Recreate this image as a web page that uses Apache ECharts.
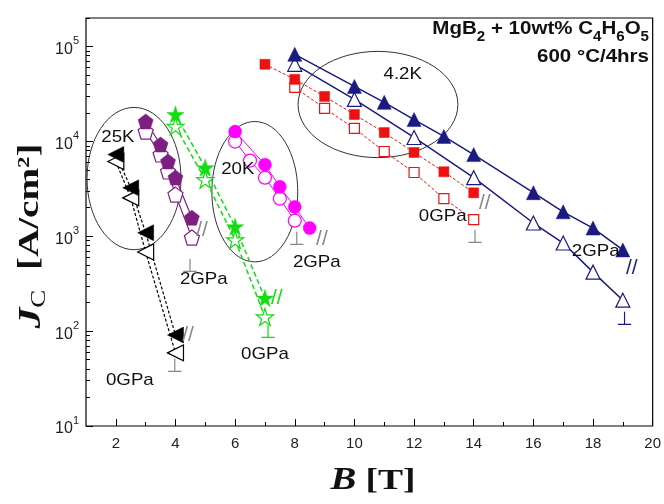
<!DOCTYPE html>
<html>
<head>
<meta charset="utf-8">
<script src="https://cdn.jsdelivr.net/npm/echarts/dist/echarts.min.js"></script>
<style>
html, body { margin: 0; padding: 0; background: #fff; }
#chart { width: 664px; height: 504px; }
</style>
</head>
<body>
<div id="chart"></div>
<script>
// field B [T] and Jc [A/cm2]
const bTri25 = [2, 2.5, 3, 4]
const jcTri25Fill = [7280, 3240, 1090, 91]
const jcTri25Open = [6140, 2540, 682, 59]

const bPent25 = [3, 3.5, 3.75, 4, 4.55]
const jcPent25Fill = [16200, 9270, 6140, 4160, 1570]
const jcPent25Open = [12700, 7280, 4820, 2750, 969]

const bStar = [4, 5, 6, 7]
const jcStarFill = [19200, 5280, 1260, 223]
const jcStarOpen = [14400, 3950, 918, 141]

const bCircFill = [6, 7, 7.5, 8, 8.5]
const jcCircFill = [12700, 5690, 3320, 2040, 1220]
const bCircOpen = [6, 6.5, 7, 7.5, 8]
const jcCircOpen = [9970, 6280, 4150, 2490, 1460]

const bSqFill = [7, 8, 9, 10, 11, 12, 13, 14]
const jcSqFill = [65000, 45100, 29800, 19200, 12400, 7640, 4790, 2870]
const bSqOpen = [8, 9, 10, 11, 12, 13, 14]
const jcSqOpen = [37100, 22300, 13700, 7830, 4700, 2490, 1500]

const bTriFill = [8, 10, 11, 12, 13, 14, 16, 17, 18, 19]
const jcTriFill = [82800, 38000, 25800, 17000, 11300, 7260, 2880, 1810, 1220, 718]
const bTriOpen = [8, 10, 12, 14, 16, 17, 18, 19]
const jcTriOpen = [65000, 27700, 11000, 4150, 1380, 849, 419, 212]

// axis ticks
const xMajor = [2, 4, 6, 8, 10, 12, 14, 16, 18, 20]
const xMinor = [3, 5, 7, 9, 11, 13, 15, 17, 19]
const yPowers = [1, 2, 3, 4, 5]

// annotations [text, B, Jc]
const labels = [
    ['25K', 2.07, 11000], ['20K', 6.09, 5020], ['4.2K', 11.62, 50900],
    ['2GPa', 4.95, 354], ['0GPa', 2.47, 30.4], ['2GPa', 8.74, 536],
    ['0GPa', 7.0, 57.3], ['0GPa', 12.96, 1610], ['2GPa', 18.09, 686]
]
// ovals [B, Jc, half width T, half height decades]
const ovals = [[2.61, 4060, 1.575, 0.75], [6.66, 2950, 1.44, 0.74], [10.79, 24500, 2.68, 0.56]]
const stops = [[4.49, 474, '#888'], [3.98, 41.4, '#888'], [8.07, 918, '#888'], [7.1, 95, '#11dd11'], [14.04, 964, '#888'], [19.06, 131, '#1a1a80']]
const breaks = [[4.89, 1170, '#888'], [4.42, 91, '#888'], [8.91, 940, '#888'], [7.4, 223, '#11dd11'], [14.37, 2250, '#888'], [19.3, 464, '#1a1a80']]

const yMinor = []
for (let n = 1; n <= 5; n++) {
    for (let k = 2; k <= 9; k++) {
        if (k * Math.pow(10, n) <= 200000) yMinor.push(Math.log10(k * Math.pow(10, n)))
    }
}

const pentagon = 'path://M50 0L97.6 34.5L79.4 90.5L20.6 90.5L2.4 34.5Z'
const star = 'path://M50 0L61.2 34.5L97.6 34.5L68.2 55.9L79.4 90.5L50 69.1L20.6 90.5L31.8 55.9L2.4 34.5L38.8 34.5Z'

const mk = (xs, ys, color, open, symbol, size, lineStyle, rotate) => ({
    type: 'line',
    data: xs.map((b, i) => [b, ys[i]]),
    symbol: symbol,
    symbolSize: size,
    symbolRotate: rotate || 0,
    showAllSymbol: true,
    itemStyle: open
        ? { color: '#fff', borderColor: color, borderWidth: 1.2 }
        : { color: color, borderColor: color, borderWidth: 0.5 },
    lineStyle: Object.assign({ color: color, width: 1.2 }, lineStyle),
    emphasis: { disabled: true },
    animation: false
})

const navy = '#1a1a80', red = '#ee1111', magenta = '#ff00ff', green = '#11dd11', purple = '#7d1f80'
const dashBlack = { type: [3, 2], width: 1.2 }
const dashGreen = { type: [5, 3], width: 1.5 }
const dashRed = { type: [3, 2], width: 1 }

const series = [
    mk(bTri25, jcTri25Open, '#000', true, 'triangle', 16, dashBlack, 90),
    mk(bTri25, jcTri25Fill, '#000', false, 'triangle', 16, dashBlack, 90),
    mk(bPent25, jcPent25Open, purple, true, pentagon, 15, { width: 1.2 }),
    mk(bPent25, jcPent25Fill, purple, false, pentagon, 15, { width: 1.2 }),
    mk(bStar, jcStarOpen, green, true, star, 17, dashGreen),
    mk(bStar, jcStarFill, green, false, star, 17, dashGreen),
    mk(bCircOpen, jcCircOpen, magenta, true, 'circle', 13, { width: 1 }),
    mk(bCircFill, jcCircFill, magenta, false, 'circle', 13, { width: 1 }),
    mk(bSqOpen, jcSqOpen, red, true, 'rect', 10, dashRed),
    mk(bSqFill, jcSqFill, red, false, 'rect', 10, dashRed),
    mk(bTriOpen, jcTriOpen, navy, true, 'triangle', 14, { width: 1.5 }),
    mk(bTriFill, jcTriFill, navy, false, 'triangle', 14, { width: 1.5 })
]

const hidden = { axisLine: { show: false }, splitLine: { show: false } }

const chart = echarts.init(document.getElementById('chart'))
chart.setOption({
    backgroundColor: '#fff',
    animation: false,
    grid: { left: 86, right: 11, top: 18, bottom: 78, show: true, borderColor: '#000', borderWidth: 1.2 },
    xAxis: [
        Object.assign({
            type: 'value', min: 1, max: 20,
            axisTick: { inside: true, length: 7, lineStyle: { color: '#000' }, customValues: xMajor },
            axisLabel: { customValues: xMajor, fontSize: 15, color: '#222', fontFamily: 'Liberation Sans', margin: 10 }
        }, hidden),
        Object.assign({
            type: 'value', min: 1, max: 20, position: 'bottom',
            axisTick: { inside: true, length: 4, lineStyle: { color: '#000' }, customValues: xMinor },
            axisLabel: { show: false }
        }, hidden)
    ],
    yAxis: [
        Object.assign({
            type: 'log', min: 10, max: 200000, logBase: 10,
            axisTick: { show: false }, axisLabel: { show: false }
        }, hidden),
        Object.assign({
            type: 'value', min: 1, max: Math.log10(200000), position: 'left',
            axisTick: { inside: true, length: 7, lineStyle: { color: '#000' }, customValues: yPowers },
            axisLabel: {
                customValues: yPowers, margin: 7,
                formatter: v => '{a|10}{s|' + v + '}',
                rich: {
                    a: { fontSize: 16, color: '#222', fontFamily: 'Liberation Sans', lineHeight: 22, verticalAlign: 'bottom' },
                    s: { fontSize: 11, color: '#222', fontFamily: 'Liberation Sans', verticalAlign: 'top' }
                }
            }
        }, hidden),
        Object.assign({
            type: 'value', min: 1, max: Math.log10(200000), position: 'left',
            axisTick: { inside: true, length: 4, lineStyle: { color: '#000' }, customValues: yMinor },
            axisLabel: { show: false }
        }, hidden)
    ],
    series: series
})

// annotations positioned through the data coordinate system
const px = (b, j) => chart.convertToPixel({ xAxisIndex: 0, yAxisIndex: 0 }, [b, j])
const graphics = []
ovals.forEach(o => {
    const c = px(o[0], o[1])
    const rx = px(o[0] + o[2], o[1])[0] - c[0]
    const ry = px(o[0], o[1] / Math.pow(10, o[3]))[1] - c[1]
    graphics.push({ type: 'ellipse', shape: { cx: c[0], cy: c[1], rx: rx, ry: ry }, style: { fill: 'none', stroke: '#333', lineWidth: 1 }, z: 1 })
})
labels.forEach(l => {
    const p = px(l[1], l[2])
    graphics.push({ type: 'text', x: p[0], y: p[1], scaleX: 1.1, style: { text: l[0], font: '17px Liberation Sans', fill: '#111', align: 'center', verticalAlign: 'middle' }, z: 10 })
})
stops.forEach(s => {
    const p = px(s[0], s[1])
    graphics.push({ type: 'text', x: p[0], y: p[1], style: { text: '⊥', font: '19px DejaVu Sans', fill: s[2], align: 'center', verticalAlign: 'middle' }, z: 10 })
})
breaks.forEach(s => {
    const p = px(s[0], s[1])
    graphics.push({ type: 'text', x: p[0], y: p[1], style: { text: '//', font: '21px Liberation Sans', fill: s[2], align: 'center', verticalAlign: 'middle' }, z: 10 })
})
// header text
graphics.push({
    type: 'text', x: 649, y: 19, z: 10, scaleX: 1.08,
    style: {
        text: '{b|MgB}{s|2}{b| + 10wt% C}{s|4}{b|H}{s|6}{b|O}{s|5}', align: 'right', verticalAlign: 'top',
        rich: {
            b: { font: 'bold 19px Liberation Sans', fill: '#111', lineHeight: 19, verticalAlign: 'top' },
            s: { font: 'bold 14px Liberation Sans', fill: '#111', lineHeight: 25, verticalAlign: 'bottom' }
        }
    }
})
graphics.push({
    type: 'text', x: 649, y: 47, z: 10, scaleX: 1.08,
    style: { text: '600 °C/4hrs', font: 'bold 19px Liberation Sans', fill: '#111', align: 'right', verticalAlign: 'top' }
})
// axis titles
graphics.push({
    type: 'text', x: 373, y: 481, z: 10, scaleX: 1.25,
    style: {
        text: '{bi|B}{b| [T]}', align: 'center', verticalAlign: 'middle',
        rich: {
            bi: { font: 'italic bold 31px Liberation Serif', fill: '#111' },
            b: { font: 'bold 30px Liberation Serif', fill: '#111' }
        }
    }
})
graphics.push({
    type: 'text', x: 33, y: 236, z: 10, rotation: Math.PI / 2, scaleX: 1.35,
    style: {
        text: '{j|J}{c|C}{b|  [A/cm}{p|2}{b|]}', align: 'center', verticalAlign: 'middle',
        rich: {
            j: { font: 'italic bold 31px Liberation Serif', fill: '#111', lineHeight: 33, verticalAlign: 'top' },
            c: { font: '20px Liberation Serif', fill: '#111', verticalAlign: 'bottom' },
            b: { font: 'bold 29px Liberation Serif', fill: '#111', lineHeight: 33, verticalAlign: 'top' },
            p: { font: 'bold 17px Liberation Serif', fill: '#111', verticalAlign: 'top' }
        }
    }
})
chart.setOption({ graphic: graphics })
</script>
</body>
</html>
